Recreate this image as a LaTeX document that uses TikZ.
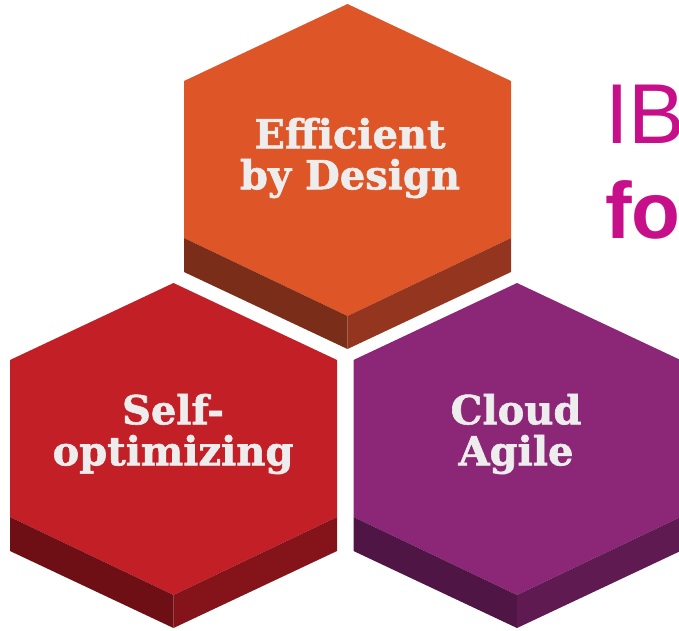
\documentclass[tikz,border=0pt]{standalone}
\usepackage{tikz}
\usepackage{xcolor}
\usepackage{fontspec}
\newfontfamily\slabfont[BoldFeatures={FakeBold=1.5}]{DejaVu Serif}
\newfontfamily\headfont{Liberation Sans}

\definecolor{effTop}{HTML}{DE5527}
\definecolor{effLeft}{HTML}{7A2E19}
\definecolor{effRight}{HTML}{943520}
\definecolor{selfTop}{HTML}{C31F27}
\definecolor{selfLeft}{HTML}{6E0F15}
\definecolor{selfRight}{HTML}{84141A}
\definecolor{cloudTop}{HTML}{8C2778}
\definecolor{cloudLeft}{HTML}{4F1545}
\definecolor{cloudRight}{HTML}{5F1A51}
\definecolor{labelGray}{HTML}{EDEDED}
\definecolor{ibmMagenta}{HTML}{C70F8A}

\begin{document}
\begin{tikzpicture}[x=1pt, y=-1pt,
    hexlabel/.style={text=labelGray, align=center, inner sep=0pt,
      font=\slabfont\bfseries\fontsize{40}{41}\selectfont},
    headline/.style={text=ibmMagenta, anchor=base west, inner sep=0pt}]
  \useasboundingbox (0,0) rectangle (679,630);
  \clip (0,0) rectangle (679,630);

  % top hexagon
  \fill[effTop] (347.5,4) -- (511,81) -- (511,238) -- (347.5,316)
    -- (184,238) -- (184,81) -- cycle;
  \fill[effLeft] (184,238) -- (347.5,316) -- (347.5,349) -- (184,272) -- cycle;
  \fill[effRight] (511,238) -- (347.5,316) -- (347.5,349) -- (511,272) -- cycle;
  \node[hexlabel] (efficient) at (350,158) {Efficient\\by Design};

  % lower left hexagon
  \fill[selfTop] (173.5,283) -- (337,360) -- (337,517) -- (173.5,595)
    -- (10,517) -- (10,360) -- cycle;
  \fill[selfLeft] (10,517) -- (173.5,595) -- (173.5,628) -- (10,551) -- cycle;
  \fill[selfRight] (337,517) -- (173.5,595) -- (173.5,628) -- (337,551) -- cycle;
  \node[hexlabel] (selfopt) at (173,434) {Self-\\optimizing};

  % lower right hexagon
  \fill[cloudTop] (517,283) -- (680.5,360) -- (680.5,517) -- (517,595)
    -- (353.5,517) -- (353.5,360) -- cycle;
  \fill[cloudLeft] (353.5,517) -- (517,595) -- (517,628) -- (353.5,551) -- cycle;
  \fill[cloudRight] (680.5,517) -- (517,595) -- (517,628) -- (680.5,551) -- cycle;
  \node[hexlabel] (cloud) at (516,434) {Cloud\\Agile};

  % cut-off heading
  \node[headline, font=\headfont\fontsize{85}{85}\selectfont] (ib) at (605,143) {IB};
  \node[headline, font=\headfont\bfseries\fontsize{80}{80}\selectfont] (fo) at (605,238) {fo};
\end{tikzpicture}
\end{document}
